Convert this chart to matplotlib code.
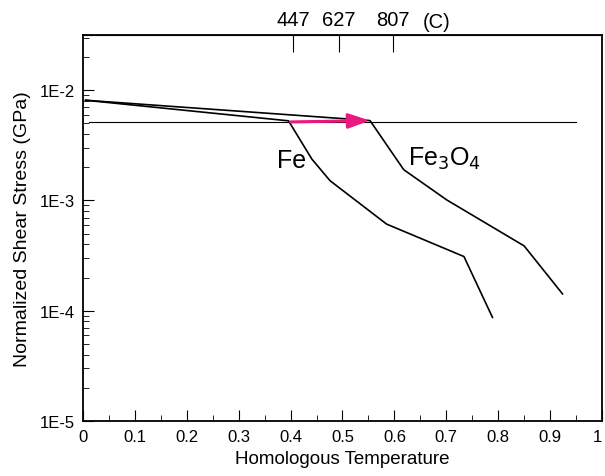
import numpy as np
import matplotlib
matplotlib.use("Agg")
import matplotlib.pyplot as plt
from matplotlib.ticker import LogLocator, FixedLocator, NullFormatter, MultipleLocator

plt.rcParams['font.family'] = ['Liberation Sans', 'DejaVu Sans']

# data
fe_T = [0.005, 0.396, 0.441, 0.476, 0.585, 0.734, 0.789]
fe_s = [8.1e-3, 5.27e-3, 2.37e-3, 1.51e-3, 6.1e-4, 3.1e-4, 8.7e-5]

fe3o4_T = [0.005, 0.553, 0.618, 0.701, 0.850, 0.924]
fe3o4_s = [8.1e-3, 5.3e-3, 1.90e-3, 1.01e-3, 3.87e-4, 1.42e-4]

ref_T = [0.012, 0.95]
ref_s = 5.1e-3

arrow_from = (0.40, 5.15e-3)
arrow_to = (0.553, 5.3e-3)

top_ticks = [0.405, 0.493, 0.597]
top_labels = ["447", "627", "807"]

x_ticks = np.arange(0, 1.01, 0.1)
x_labels = ["0", "0.1", "0.2", "0.3", "0.4", "0.5", "0.6", "0.7", "0.8", "0.9", "1"]
y_ticks = [1e-5, 1e-4, 1e-3, 1e-2]
y_labels = ["1E-5", "1E-4", "1E-3", "1E-2"]

fig = plt.figure(figsize=(6.05, 4.77), dpi=100)
ax = fig.add_axes([0.1372, 0.1153, 0.995 - 0.1372, 0.9245 - 0.1153])

ax.plot(fe_T, fe_s, color="black", lw=1.2)
ax.plot(fe3o4_T, fe3o4_s, color="black", lw=1.2)
ax.plot(ref_T, [ref_s, ref_s], color="black", lw=0.8)

ax.annotate("", xy=arrow_to, xytext=arrow_from,
            arrowprops=dict(arrowstyle="-|>,head_length=1.3,head_width=0.45",
                            color="#e8197f", lw=2.2, shrinkA=0, shrinkB=0))

ax.text(0.401, 2.35e-3, "Fe", fontsize=18, ha="center", va="center")
ax.text(0.697, 2.45e-3, r"Fe$_3$O$_4$", fontsize=18, ha="center", va="center")

ax.set_yscale("log")
ax.set_xlim(0, 1)
ax.set_ylim(1e-5, 10 ** -1.5)

ax.xaxis.set_minor_locator(MultipleLocator(0.05))
ax.set_xticks(x_ticks)
ax.set_xticklabels(x_labels)
ax.yaxis.set_major_locator(FixedLocator(y_ticks))
ax.yaxis.set_minor_locator(LogLocator(base=10, subs=np.arange(2, 10), numticks=20))
ax.yaxis.set_minor_formatter(NullFormatter())
ax.set_yticklabels(y_labels)

ax.tick_params(which="major", direction="in", length=8, width=0.8,
               labelsize=12, top=False, right=False, pad=6)
ax.tick_params(which="minor", direction="in", length=4, width=0.6,
               top=False, right=False)
# keep the last label inside the figure
ax.get_xticklabels()[-1].set_horizontalalignment("right")

for s in ax.spines.values():
    s.set_linewidth(1.3)

top = ax.secondary_xaxis("top")
top.set_xticks(top_ticks)
top.set_xticklabels(top_labels)
top.tick_params(direction="in", length=12, width=0.8, labelsize=14.5, pad=4)
top.xaxis.set_minor_locator(FixedLocator([]))
fig.text(437 / 605, 1 - 22 / 477, "(C)", fontsize=14.5, ha="center", va="center")

ax.set_xlabel("Homologous Temperature", fontsize=13.5, labelpad=4)
ax.set_ylabel("Normalized Shear Stress (GPa)", fontsize=14, labelpad=6)

fig.savefig("out.png", dpi=100)
